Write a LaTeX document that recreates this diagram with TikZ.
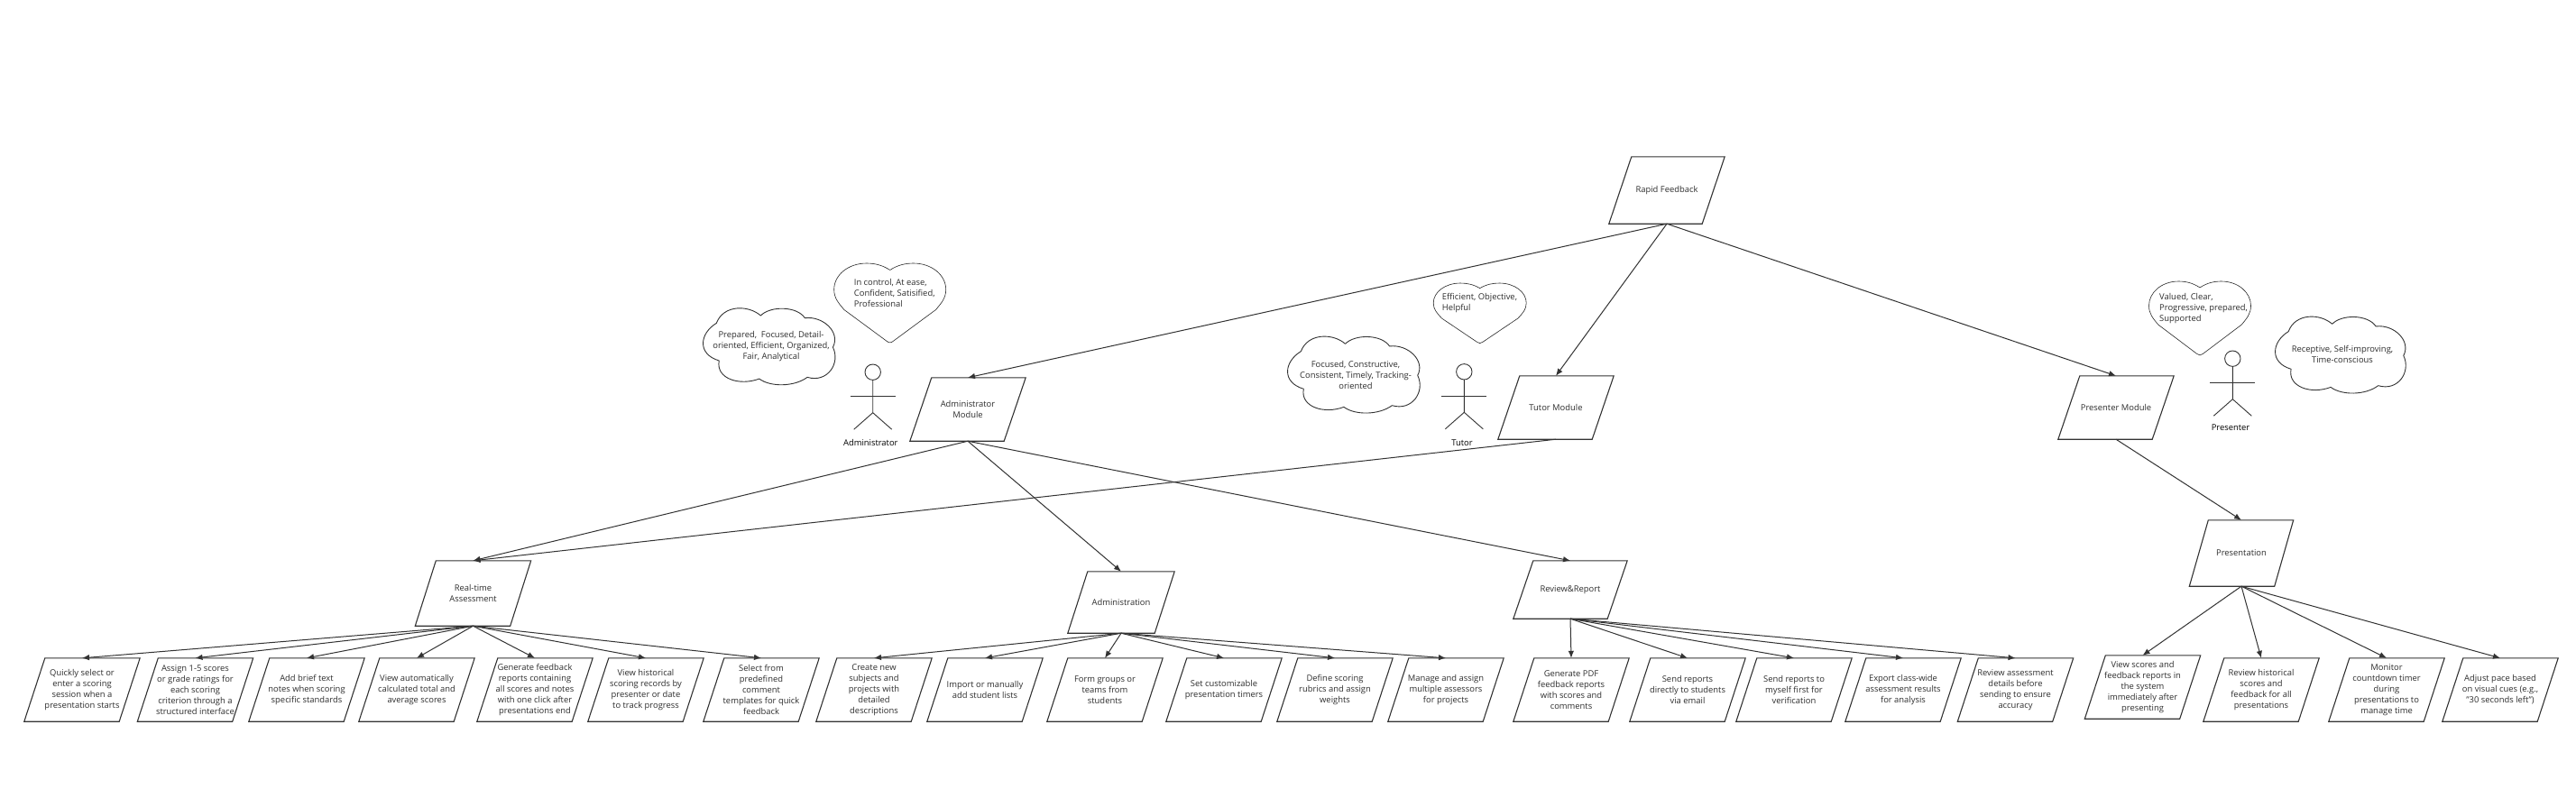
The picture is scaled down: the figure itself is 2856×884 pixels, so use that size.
\documentclass[tikz,border=0pt]{standalone}
\usepackage{fontspec}
\setmainfont{Open Sans}
\usetikzlibrary{arrows.meta,calc}
\definecolor{txt}{HTML}{2E2E2E}
\definecolor{ln}{HTML}{333333}
\tikzset{
  x=1pt,y=-1pt,
  pbox/.style={rectangle,inner sep=0pt,align=center,text=txt,font=\fontsize{9.4}{12}\selectfont},
  pline/.style={draw=ln,line width=1.1pt},
  conn/.style={draw=ln,line width=1pt,-{Latex[length=8pt,width=6.5pt]}},
  thinline/.style={draw=black!85,line width=0.6pt},
  cloudline/.style={draw=ln,line width=0.9pt},
  lab/.style={inner sep=0pt,align=center,text=txt,font=\fontsize{9.4}{12}\selectfont},
  lableft/.style={lab,align=left,anchor=west},
  actlab/.style={inner sep=0pt,text=black,font=\fontsize{9.4}{12}\selectfont},
  actline/.style={draw=ln,line width=0.9pt}
}
\newcommand{\PB}[7]{%
  \node[pbox,minimum width=#4,minimum height=#5] (#1) at (#2,#3) {#7};
  \draw[pline] (#1.south west) -- ($(#1.north west)+(#6,0)$) -- (#1.north east) -- ($(#1.south east)-(#6,0)$) -- cycle;}
\newcommand{\leafbox}[3]{\PB{#1}{#2}{765}{128}{70}{23}{#3}}
% cx, top, width, height
\newcommand{\heartshape}[4]{%
  \draw[thinline,line join=round] [shift={(#1,#2)},xscale=#3/2,yscale=#4]
   (0,.085) .. controls (-.14,.02) and (-.28,0) .. (-.42,0) .. controls (-.75,0) and (-1,.15) .. (-1,.33)
   .. controls (-1,.44) and (-.92,.5) .. (-.82,.585) -- (-.06,.98) .. controls (-.02,1.005) and (.02,1.005) .. (.06,.98)
   -- (.82,.585) .. controls (.92,.5) and (1,.44) .. (1,.33) .. controls (1,.15) and (.75,0) .. (.42,0)
   .. controls (.28,0) and (.14,.02) .. (0,.085) -- cycle;}
% left, top, width, height
\newcommand{\cloudshape}[4]{%
  \draw[cloudline,line join=round] [shift={(#1,#2)},xscale=#3,yscale=#4]
   (.097,.196) .. controls (.15,-.05) and (.34,-.04) .. (.429,.098)
   .. controls (.5,-.03) and (.7,-.03) .. (.761,.129)
   .. controls (.9,.10) and (1.03,.32) .. (.971,.51)
   .. controls (1.03,.72) and (.93,.98) .. (.779,.902)
   .. controls (.68,1.03) and (.5,1.03) .. (.418,.922)
   .. controls (.27,1.02) and (.09,.92) .. (.117,.686)
   .. controls (-.05,.6) and (-.03,.33) .. (.097,.196) -- cycle;}
% head centre x, y
\newcommand{\actor}[2]{%
  \draw[actline] (#1,#2) circle (8.7);
  \draw[actline] (#1,#2+8.7) -- (#1,#2+45) -- (#1-21,#2+63.5);
  \draw[actline] (#1,#2+45) -- (#1+21,#2+63.5);
  \draw[actline] (#1-25,#2+26.7) -- (#1+25,#2+26.7);}
\begin{document}
\begin{tikzpicture}
\useasboundingbox (0,0) rectangle (2856,884);
\fill[white] (0,0) rectangle (2856,884);

\PB{rapid}{1848}{211}{128}{74}{25}{Rapid Feedback}
\PB{admod}{1073}{454}{128}{70}{24}{Administrator\\Module}
\PB{tumod}{1725}{452}{128}{70}{24}{Tutor Module}
\PB{prmod}{2346}{452}{128}{70}{24}{Presenter Module}
\PB{rta}{524.5}{658}{128}{72}{23}{Real-time\\Assessment}
\PB{adm}{1243}{668}{118}{68}{22}{Administration}
\PB{rev}{1741}{654}{126}{64}{22}{Review\&Report}
\PB{pres}{2485}{613.5}{115}{73}{21}{Presentation}

\leafbox{a1}{91}{Quickly select or\\enter a scoring\\session when a\\presentation starts}
\leafbox{a2}{216.5}{Assign 1-5 scores\\or grade ratings for\\each scoring\\criterion through a\\structured interface}
\leafbox{a3}{340}{Add brief text\\notes when scoring\\specific standards}
\leafbox{a4}{462}{View automatically\\calculated total and\\average scores}
\leafbox{a5}{593}{Generate feedback\\reports containing\\all scores and notes\\with one click after\\presentations end}
\leafbox{a6}{716}{View historical\\scoring records by\\presenter or date\\to track progress}
\leafbox{a7}{844}{Select from\\predefined\\comment\\templates for quick\\feedback}
\leafbox{b1}{969}{Create new\\subjects and\\projects with\\detailed\\descriptions}
\leafbox{b2}{1092}{Import or manually\\add student lists}
\leafbox{b3}{1225}{Form groups or\\teams from\\students}
\leafbox{b4}{1357}{Set customizable\\presentation timers}
\leafbox{b5}{1480}{Define scoring\\rubrics and assign\\weights}
\leafbox{b6}{1603}{Manage and assign\\multiple assessors\\for projects}
\leafbox{c1}{1742}{Generate PDF\\feedback reports\\with scores and\\comments}
\leafbox{c2}{1871}{Send reports\\directly to students\\via email}
\leafbox{c3}{1989}{Send reports to\\myself first for\\verification}
\leafbox{c4}{2110}{Export class-wide\\assessment results\\for analysis}
\leafbox{c5}{2234.5}{Review assessment\\details before\\sending to ensure\\accuracy}
\PB{d1}{2375.5}{762}{128}{70}{23}{View scores and\\feedback reports in\\the system\\immediately after\\presenting}
\leafbox{d2}{2507}{Review historical\\scores and\\feedback for all\\presentations}
\leafbox{d3}{2646}{Monitor\\countdown timer\\during\\presentations to\\manage time}
\leafbox{d4}{2772}{Adjust pace based\\on visual cues (e.g.,\\"30 seconds left")}

\foreach \s/\t in {rapid/admod,rapid/tumod,rapid/prmod,admod/rta,admod/adm,admod/rev,tumod/rta,prmod/pres,
  rta/a1,rta/a2,rta/a3,rta/a4,rta/a5,rta/a6,rta/a7,
  adm/b1,adm/b2,adm/b3,adm/b4,adm/b5,adm/b6,
  rev/c1,rev/c2,rev/c3,rev/c4,rev/c5,
  pres/d1,pres/d2,pres/d3,pres/d4}
  {\draw[conn] (\s.south) -- (\t.north);}

\heartshape{986.7}{292}{124}{88}
\node[lableft] (h1) at (946.7,325) {In control, At ease,\\Confident, Satisified,\\Professional};
\heartshape{1640.7}{314}{103}{66.7}
\node[lableft] (h2) at (1598.7,336) {Efficient, Objective,\\Helpful};
\heartshape{2439}{312}{113}{82}
\node[lableft] (h3) at (2394,342.5) {Valued, Clear,\\Progressive, prepared,\\Supported};

\cloudshape{780}{341.7}{147.7}{85}
\node[lab] (c1t) at (855,384.2) {Prepared,\ \ Focused, Detail-\\oriented, Efficient, Organized,\\Fair, Analytical};
\cloudshape{1428}{373}{148}{85}
\node[lab] (c2t) at (1503,416) {Focused, Constructive,\\Consistent, Timely, Tracking-\\oriented};
\cloudshape{2523}{351}{146}{85}
\node[lab] (c3t) at (2597,392.5) {Receptive, Self-improving,\\Time-conscious};

\actor{967.7}{412.7}
\node[actlab] (act1) at (965.3,490.7) {Administrator};
\actor{1623.3}{412.3}
\node[actlab] (act2) at (1621,490.7) {Tutor};
\actor{2475.3}{397.7}
\node[actlab] (act3) at (2473,473.7) {Presenter};
\end{tikzpicture}
\end{document}
